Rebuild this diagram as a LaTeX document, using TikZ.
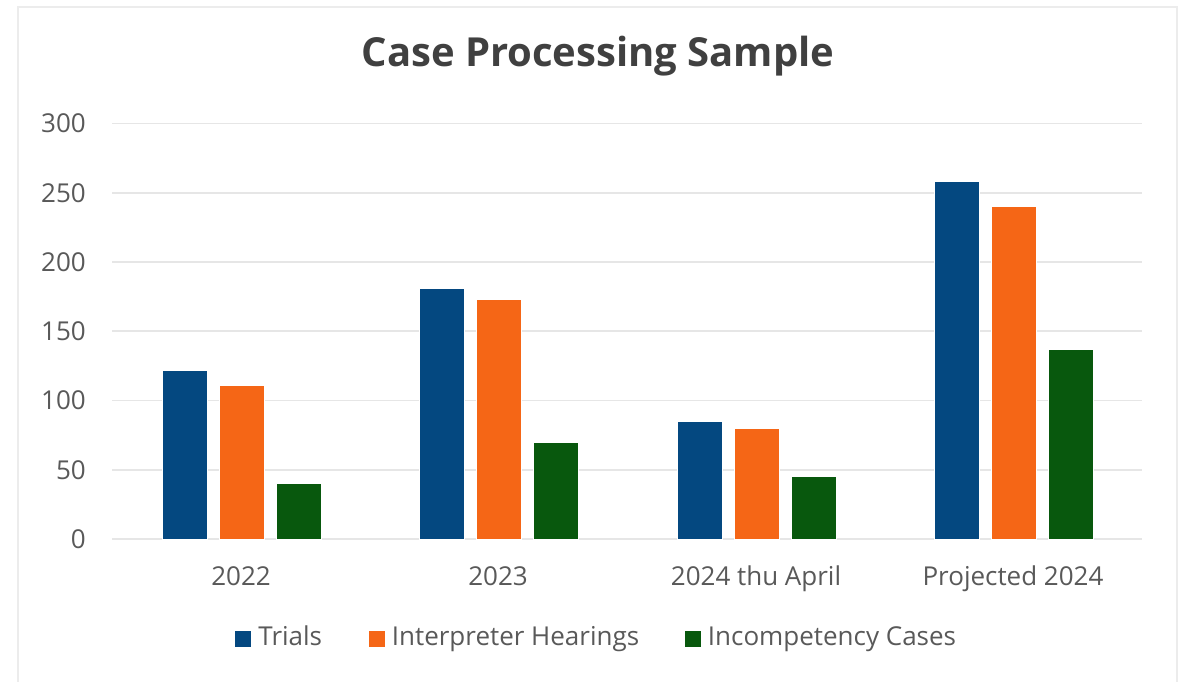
\documentclass[tikz,border=0pt]{standalone}
\usepackage{fontspec}
\setmainfont{Open Sans}
\usepackage{xcolor}
\usepackage{tikz}
\usetikzlibrary{positioning}
\definecolor{trialBlue}{RGB}{4,72,128}
\definecolor{interpOrange}{RGB}{245,102,22}
\definecolor{incompGreen}{RGB}{8,88,13}
\definecolor{inkgray}{RGB}{89,89,89}
\definecolor{inktitle}{RGB}{64,64,64}
\definecolor{gridgray}{RGB}{230,230,230}
\definecolor{framegray}{RGB}{236,236,236}

\begin{document}
\begin{tikzpicture}[x=1pt,y=1pt,
  colbar/.style={draw=white,line width=0.6pt},
  ylab/.style={anchor=east,inner sep=0pt,text=inkgray,font=\fontsize{26}{30}\selectfont},
  xlab/.style={anchor=base,inner sep=0pt,text=inkgray,font=\fontsize{26}{30}\selectfont},
  keybox/.style={minimum size=16pt,inner sep=0pt},
  leg/.style={inner sep=0pt,text=inkgray,font=\fontsize{26}{30}\selectfont,
              text height=18pt,text depth=5pt},
  grid line/.style={gridgray,line width=1.6pt}]
  \useasboundingbox (0,0) rectangle (1190,682);
  % chart frame, open at the bottom
  \draw[framegray,line width=2.5pt] (18,0) -- (18,675) -- (1177,675) -- (1177,0);
  \node[font=\fontsize{40}{46}\selectfont\bfseries,text=inktitle,anchor=base] (title) at (598,615) {Case Processing Sample};

  \begin{scope}[shift={(0,143)},y=1.385pt]
    % value axis
    \draw[grid line] (112,0) -- (1142,0);
    \draw[grid line] (112,50) -- (1142,50);
    \draw[grid line] (112,100) -- (1142,100);
    \draw[grid line] (112,150) -- (1142,150);
    \draw[grid line] (112,200) -- (1142,200);
    \draw[grid line] (112,250) -- (1142,250);
    \draw[grid line] (112,300) -- (1142,300);
    \node[ylab] (y0) at (86,0) {0};
    \node[ylab] (y50) at (86,50) {50};
    \node[ylab] (y100) at (86,100) {100};
    \node[ylab] (y150) at (86,150) {150};
    \node[ylab] (y200) at (86,200) {200};
    \node[ylab] (y250) at (86,250) {250};
    \node[ylab] (y300) at (86,300) {300};
    % 2022
    \draw[colbar,fill=trialBlue] (162,0) rectangle (207,122);
    \draw[colbar,fill=interpOrange] (219,0) rectangle (264,111);
    \draw[colbar,fill=incompGreen] (276,0) rectangle (321,40);
    % 2023
    \draw[colbar,fill=trialBlue] (419,0) rectangle (464,181);
    \draw[colbar,fill=interpOrange] (476,0) rectangle (521,173);
    \draw[colbar,fill=incompGreen] (533,0) rectangle (578,70);
    % 2024 thu April
    \draw[colbar,fill=trialBlue] (677,0) rectangle (722,85);
    \draw[colbar,fill=interpOrange] (734,0) rectangle (779,80);
    \draw[colbar,fill=incompGreen] (791,0) rectangle (836,45);
    % projected 2024
    \draw[colbar,fill=trialBlue] (934,0) rectangle (979,258);
    \draw[colbar,fill=interpOrange] (991,0) rectangle (1036,240);
    \draw[colbar,fill=incompGreen] (1048,0) rectangle (1093,137);
  \end{scope}

  \node[xlab] (c1) at (241,96) {2022};
  \node[xlab] (c2) at (498,96) {2023};
  \node[xlab] (c3) at (756,96) {2024 thu April};
  \node[xlab] (c4) at (1013,96) {Projected 2024};

  % legend
  \node[keybox,fill=trialBlue] (k1) at (243,42.5) {};
  \node[leg,right=7pt of k1] (l1) {Trials};
  \node[keybox,fill=interpOrange] (k2) at (376.5,42.5) {};
  \node[leg,right=7pt of k2] (l2) {Interpreter Hearings};
  \node[keybox,fill=incompGreen] (k3) at (692.5,42.5) {};
  \node[leg,right=7pt of k3] (l3) {Incompetency Cases};
\end{tikzpicture}
\end{document}
